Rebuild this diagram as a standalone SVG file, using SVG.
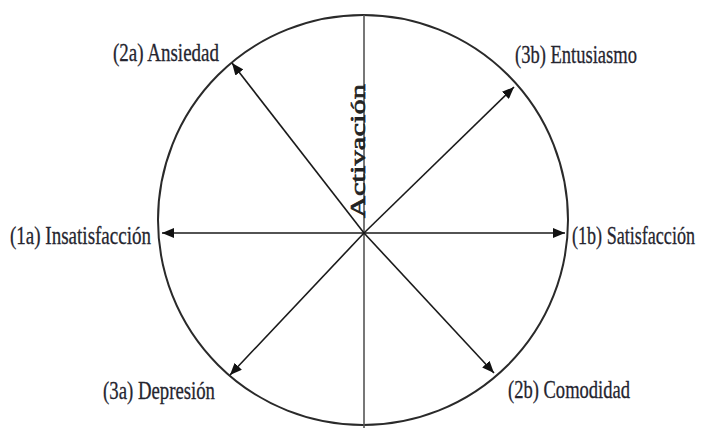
<svg xmlns="http://www.w3.org/2000/svg" width="702" height="428" viewBox="0 0 702 428">
<style>
.lbl{font-family:"Liberation Serif","Times New Roman",serif;font-size:26px;fill:#25252f;stroke:#25252f;stroke-width:0.3}
.axis{font-family:"Liberation Serif","Times New Roman",serif;font-size:20px;fill:#222;stroke:#222;stroke-width:0.6}
.arr{stroke:#1a1a1a;stroke-width:1.6;fill:none;marker-end:url(#ah)}
</style>
<defs>
<marker id="ah" viewBox="0 0 12 10" refX="12" refY="5" markerWidth="12" markerHeight="10" markerUnits="userSpaceOnUse" orient="auto">
<path d="M0,0 L12,5 L0,10 Z" fill="#111"/>
</marker>
</defs>
<rect width="702" height="428" fill="#fff"/>
<g id="circle"><circle cx="363" cy="220" r="205" fill="none" stroke="#2a2a2a" stroke-width="2"/></g>
<g id="axis-activacion">
<line x1="364" y1="15" x2="364" y2="428" stroke="#555" stroke-width="1.6"/>
<text class="axis" transform="translate(365,218) rotate(-90)" textLength="134" lengthAdjust="spacingAndGlyphs">Activación</text>
</g>
<g id="connectors">
<line class="arr" x1="364" y1="233" x2="162" y2="233"/>
<line class="arr" x1="364" y1="233" x2="565" y2="233"/>
<line class="arr" x1="364" y1="233" x2="232" y2="63"/>
<line class="arr" x1="364" y1="233" x2="514" y2="87"/>
<line class="arr" x1="364" y1="233" x2="230" y2="375"/>
<line class="arr" x1="364" y1="233" x2="494" y2="373"/>
</g>
<g id="n2a"><text class="lbl" x="113" y="61" textLength="106" lengthAdjust="spacingAndGlyphs">(2a) Ansiedad</text></g>
<g id="n3b"><text class="lbl" x="515" y="63" textLength="122" lengthAdjust="spacingAndGlyphs">(3b) Entusiasmo</text></g>
<g id="n1a"><text class="lbl" x="10" y="244" textLength="141" lengthAdjust="spacingAndGlyphs">(1a) Insatisfacción</text></g>
<g id="n1b"><text class="lbl" x="572" y="244" textLength="123" lengthAdjust="spacingAndGlyphs">(1b) Satisfacción</text></g>
<g id="n3a"><text class="lbl" x="103" y="399" textLength="112" lengthAdjust="spacingAndGlyphs">(3a) Depresión</text></g>
<g id="n2b"><text class="lbl" x="508" y="398" textLength="122" lengthAdjust="spacingAndGlyphs">(2b) Comodidad</text></g>
</svg>
